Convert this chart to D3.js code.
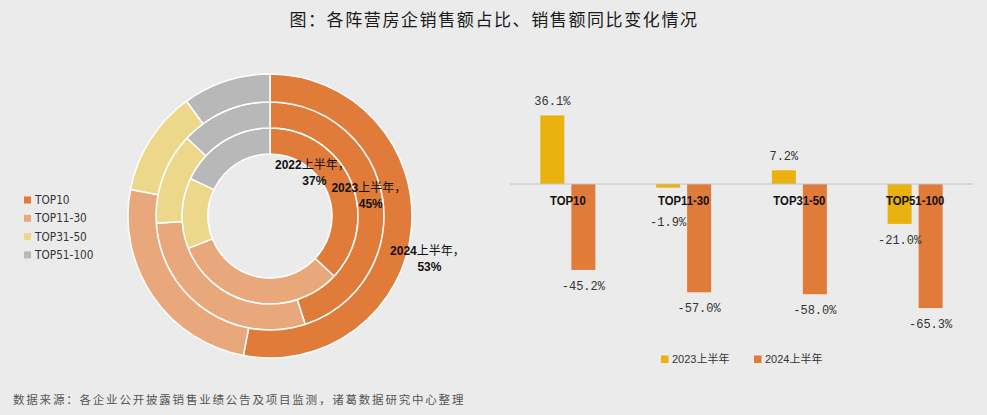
<!DOCTYPE html>
<html><head><meta charset="utf-8">
<script src="https://cdn.jsdelivr.net/npm/d3@7"></script>
<style>
html,body{margin:0;padding:0;background:#ebebeb;}
svg{display:block;}
</style></head>
<body>
<svg id="chart" width="987" height="415"></svg>
<script>
// ---- data ----
const categories = ["TOP10", "TOP11-30", "TOP31-50", "TOP51-100"];
const shareYears = ["2022上半年", "2023上半年", "2024上半年"];
const share2022 = [37, 32, 13, 18];
const share2023 = [45, 29, 13, 13];
const share2024 = [53, 25, 12, 10];
const yoySeries = ["2023上半年", "2024上半年"];
const yoy2023 = [36.1, -1.9, 7.2, -21.0];
const yoy2024 = [-45.2, -57.0, -58.0, -65.3];

const title = "图：各阵营房企销售额占比、销售额同比变化情况";
const source = "数据来源：各企业公开披露销售业绩公告及项目监测，诸葛数据研究中心整理";

// ---- styles ----
const catColors = ["#e07b39", "#e9a87b", "#ecd78a", "#b8b8b8"];
const barColors = ["#e9b20e", "#e07b39"];
const svg = d3.select("#chart");
const W = 987, H = 415;

svg.append("rect").attr("width", W).attr("height", H).attr("fill", "#ebebeb");

// title
svg.append("text").attr("x", 494).attr("y", 26).attr("text-anchor", "middle")
  .attr("font-family", "'Noto Sans CJK SC'").attr("font-size", 17).attr("font-weight", 400)
  .attr("letter-spacing", 1.6).attr("fill", "#1a1a1a").text(title);

// source
svg.append("text").attr("x", 13).attr("y", 404)
  .attr("font-family", "'Noto Sans CJK SC'").attr("font-size", 11.5)
  .attr("letter-spacing", 1.8).attr("fill", "#555").text(source);

// ---- donut ----
const cx = 270, cy = 216;
const ringRadii = [[62, 88], [88, 114], [114, 142]];
const shares = [share2022, share2023, share2024];
const pie = d3.pie().sort(null).value(d => d);
const g = svg.append("g").attr("transform", `translate(${cx},${cy})`);
shares.forEach((vals, i) => {
  const arc = d3.arc().innerRadius(ringRadii[i][0]).outerRadius(ringRadii[i][1]);
  g.selectAll(null).data(pie(vals)).enter().append("path")
    .attr("d", arc).attr("fill", (d, j) => catColors[j])
    .attr("stroke", "#fff").attr("stroke-width", 1.5);
});
// labels (polar anchor: angle in deg, radius)
const labelPolar = [[44, 61], [78, 101], [105, 163]];
shares.forEach((vals, i) => {
  const a = labelPolar[i][0] * Math.PI / 180, r = labelPolar[i][1];
  const x = Math.sin(a) * r, y = -Math.cos(a) * r;
  const t = g.append("text").attr("text-anchor", "middle")
    .attr("font-family", "'Liberation Sans','Noto Sans CJK SC'").attr("font-size", 12).attr("fill", "#111");
  const l1 = t.append("tspan").attr("x", x).attr("y", y - 3);
  l1.append("tspan").attr("font-weight", "bold").text(shareYears[i].slice(0, 4));
  l1.append("tspan").attr("font-family", "'Noto Sans CJK SC'").text(shareYears[i].slice(4) + "，");
  t.append("tspan").attr("x", x + 2).attr("y", y + 13).attr("font-weight", "bold").text(vals[0] + "%");
});

// left legend
const lg = svg.append("g");
categories.forEach((c, i) => {
  const yy = 200 + i * 18.3;
  lg.append("rect").attr("x", 24).attr("y", yy - 3.5).attr("width", 7).attr("height", 7).attr("fill", catColors[i]);
  lg.append("text").attr("transform", `translate(35,${yy + 4}) scale(0.92,1)`)
    .attr("font-family", "'DejaVu Sans'")
    .attr("font-size", 11.5).attr("fill", "#333").text(c);
});

// ---- bar chart ----
const x0 = d3.scaleBand().domain(categories).range([510, 973]);
const x1 = d3.scaleBand().domain(yoySeries).range([-27.5, 27.5]).paddingInner(0.226);
const y = d3.scaleLinear().domain([-70, 40]).range([184 + 70 * 1.9, 184 - 40 * 1.9]);
const barData = [yoy2023, yoy2024];

const bg = svg.append("g");
barData.forEach((vals, si) => {
  bg.selectAll(null).data(vals).enter().append("rect")
    .attr("x", (d, i) => x0(categories[i]) + x0.bandwidth() / 2 + x1(yoySeries[si]))
    .attr("width", x1.bandwidth())
    .attr("y", d => y(Math.max(0, d)))
    .attr("height", d => Math.abs(y(d) - y(0)))
    .attr("fill", barColors[si]);
});
// zero line
bg.append("line").attr("x1", 510).attr("x2", 973).attr("y1", y(0)).attr("y2", y(0))
  .attr("stroke", "#c4c4c4").attr("stroke-width", 1);

// category labels
categories.forEach((c, i) => {
  bg.append("text")
    .attr("transform", `translate(${x0(c) + x0.bandwidth() / 2},${y(0) + 21}) scale(0.84,1)`)
    .attr("text-anchor", "middle")
    .attr("font-family", "'Liberation Sans','DejaVu Sans'")
    .attr("font-weight", "bold").attr("font-size", 13.5).attr("fill", "#111").text(c);
});

// value labels
barData.forEach((vals, si) => {
  vals.forEach((d, i) => {
    const bx = x0(categories[i]) + x0.bandwidth() / 2 + x1(yoySeries[si]) + x1.bandwidth() / 2;
    let ly;
    if (d >= 0) ly = y(d) - 10;
    else ly = Math.max(y(d) + 20, y(0) + 42);
    bg.append("text").attr("x", bx).attr("y", ly).attr("text-anchor", "middle")
      .attr("font-family", "'Liberation Mono','DejaVu Sans Mono'").attr("font-size", 12)
      .attr("fill", "#333").text(d.toFixed(1) + "%");
  });
});

// bottom legend
yoySeries.forEach((s, i) => {
  const lx = 661 + i * 93;
  svg.append("rect").attr("x", lx).attr("y", 355.5).attr("width", 7.5).attr("height", 7.5).attr("fill", barColors[i]);
  svg.append("text").attr("x", lx + 11).attr("y", 363)
    .attr("font-family", "'Liberation Sans','Noto Sans CJK SC'").attr("font-size", 11)
    .attr("fill", "#333").text(s);
});
</script>
</body></html>
